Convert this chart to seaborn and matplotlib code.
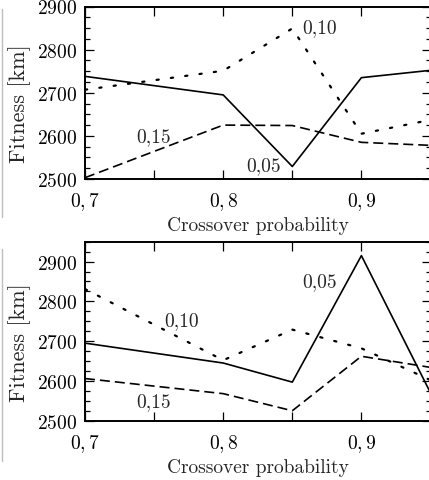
import numpy as np
import pandas as pd
import matplotlib
matplotlib.use("Agg")
import matplotlib.pyplot as plt
from matplotlib.lines import Line2D
from matplotlib.ticker import FixedLocator, MultipleLocator
import seaborn as sns

# ---- data ----
crossover = [0.70, 0.80, 0.85, 0.90, 0.95]

top_005 = [2738, 2695, 2529, 2735, 2752]
top_010 = [2707, 2751, 2849, 2605, 2637]
top_015 = [2503, 2625, 2624, 2585, 2578]

bot_005 = [2695, 2645, 2597, 2915, 2570]
bot_010 = [2831, 2652, 2729, 2682, 2602]
bot_015 = [2606, 2568, 2525, 2662, 2634]

series_labels = ["0,05", "0,10", "0,15"]

xtick_vals = [0.70, 0.75, 0.80, 0.85, 0.90, 0.95]
xtick_labels = [r"$0,7$", "", r"$0,8$", "", r"$0,9$", ""]

# label anchor positions (data coords) for each panel
top_label_pos = [(0.8166, 2533), (0.857, 2853), (0.7374, 2600)]
bot_label_pos = [(0.857, 2852), (0.7576, 2752), (0.7374, 2550)]

# ---- style ----
sns.set_style("ticks")
plt.rcParams["font.family"] = ["cmr10", "DejaVu Serif"]
plt.rcParams["mathtext.fontset"] = "cm"
plt.rcParams["axes.formatter.use_mathtext"] = True
FS = 14
plt.rcParams["font.size"] = FS

fig = plt.figure(figsize=(4.29, 4.81), dpi=100)
W, H = 429, 481
ax1 = fig.add_axes([85 / W, 1 - 180 / H, (430.5 - 85) / W, (180 - 7.5) / H])
ax2 = fig.add_axes([85 / W, 1 - 421.7 / H, (430.5 - 85) / W, (421.7 - 242.7) / H])

styles = [
    dict(linestyle="-", linewidth=1.2),
    dict(linestyle=(0, (1, 5.5)), linewidth=1.6, dash_capstyle="round"),
    dict(linestyle=(0, (6, 3)), linewidth=1.2),
]

def draw(ax, ys, ylim, label_pos):
    for y, st in zip(ys, styles):
        df = pd.DataFrame({"x": crossover, "y": y})
        sns.lineplot(data=df, x="x", y="y", ax=ax, color="black", **st)
    for (lx, ly), txt in zip(label_pos, series_labels):
        ax.text(lx, ly, txt, ha="left", va="center", fontsize=FS)
    ax.set_xlim(0.70, 0.95)
    ax.set_ylim(*ylim)
    ax.xaxis.set_major_locator(FixedLocator(xtick_vals))
    ax.set_xticklabels(xtick_labels)
    ax.yaxis.set_major_locator(MultipleLocator(100))
    ax.yaxis.set_minor_locator(MultipleLocator(25))
    ax.tick_params(axis="both", which="both", direction="in",
                   top=True, right=True, width=0.9, colors="black",
                   labelsize=FS)
    ax.tick_params(axis="both", which="major", length=6.5)
    ax.tick_params(axis="y", which="minor", length=3.5)
    ax.tick_params(axis="x", which="major", pad=8)
    ax.tick_params(axis="y", which="major", pad=6)
    for s in ax.spines.values():
        s.set_linewidth(1.4)
        s.set_color("black")
    ax.set_xlabel("Crossover probability", fontsize=FS, labelpad=3)
    ax.set_ylabel("Fitness [km]", fontsize=16)
    ax.yaxis.set_label_coords(-0.155, 0.44)
    ax.set_facecolor("white")

draw(ax1, [top_005, top_010, top_015], (2500, 2900), top_label_pos)
draw(ax2, [bot_005, bot_010, bot_015], (2500, 2950), bot_label_pos)

# light gray frame remnants at the left edge
for y0, y1 in [(10, 218), (250, 462)]:
    fig.add_artist(Line2D([1.5 / W, 1.5 / W], [1 - y0 / H, 1 - y1 / H],
                          transform=fig.transFigure, color="#bdbdbd", lw=1.0))

fig.savefig("out.png", dpi=100, facecolor="white")
